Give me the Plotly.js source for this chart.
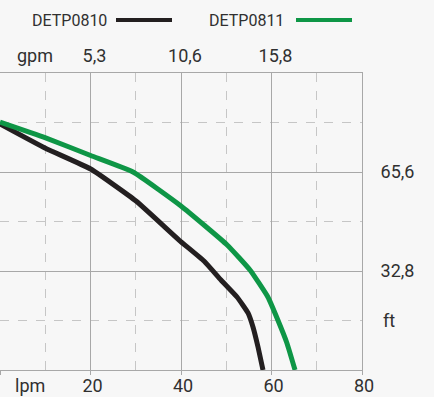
<!DOCTYPE html>
<html>
<head>
<meta charset="utf-8">
<script src="https://cdn.plot.ly/plotly-3.0.1.min.js"></script>
<style>html,body{margin:0;padding:0;background:#f7f7f7;}#chart{width:434px;height:397px;}</style>
</head>
<body>
<div id="chart"></div>
<script>
// Series names
const seriesNames = ["DETP0810", "DETP0811"];
// Flow in lpm, head in metres (axis labelled in ft: 10 m = 32,8 ft)
const flowDETP0810 = [0, 9.94, 20.04, 30.06, 39.56, 45.08, 48.84, 52.38, 54.81, 55.91, 57.02, 58.12];
const headDETP0810 = [24.85, 22.42, 20.3, 17.07, 13.13, 11.01, 9.09, 7.37, 5.76, 4.34, 2.32, 0];
const flowDETP0811 = [0, 9.94, 20.04, 29.4, 40, 50.2, 55.25, 59.2, 61.4, 63.4, 65.2];
const headDETP0811 = [25.05, 23.48, 21.67, 20.0, 16.57, 12.63, 10.1, 7.37, 5.05, 2.73, 0];
// Tick labels
const lpmTickVals = [0, 20, 40, 60, 80];
const lpmTickText = ["", "20", "40", "60", "80"];
const gpmTickVals = [20, 40, 60];
const gpmTickText = ["5,3", "10,6", "15,8"];
const ftTickVals = [10, 20];
const ftTickText = ["32,8", "65,6"];
const unitLabels = {x: "lpm", x2: "gpm", y: "ft"};
const colors = ["#231f20", "#0e9646"];

const FONT = "Roboto, 'Open Sans', sans-serif";
const TXT = "#303030";
const GRID = "#a8a8a8";
const GRID_MINOR = "#c6c6c6";

const traces = [
  {x: flowDETP0810, y: headDETP0810, name: seriesNames[0], mode: "lines",
   line: {color: colors[0], width: 5, shape: "spline", smoothing: 0.4}, hoverinfo: "skip"},
  {x: flowDETP0811, y: headDETP0811, name: seriesNames[1], mode: "lines",
   line: {color: colors[1], width: 5, shape: "spline", smoothing: 0.4}, hoverinfo: "skip"},
  {x: [], y: [], xaxis: "x2", yaxis: "y", showlegend: false, hoverinfo: "skip"}
];

// paper coords: plot spans 362 px wide, 297 px tall
const W = 362, H = 297;
const px = v => v / W;
const py = v => 1 + (73 - v) / H;

const layout = {
  width: 434, height: 397,
  margin: {l: 0, r: 72, t: 73, b: 27, pad: 0},
  paper_bgcolor: "#f7f7f7", plot_bgcolor: "#f7f7f7",
  showlegend: false,
  font: {family: FONT, size: 18, color: TXT},
  xaxis: {
    range: [0, 80], tickmode: "array", tickvals: lpmTickVals, ticktext: lpmTickText,
    showgrid: true, gridcolor: GRID, gridwidth: 1, zeroline: false,
    showline: true, linecolor: GRID, linewidth: 1, mirror: true,
    ticks: "outside", ticklen: 4, tickcolor: GRID, ticklabelshift: 2, ticklabelstandoff: -5,
    tickfont: {family: FONT, size: 18, color: TXT},
    minor: {tickmode: "linear", tick0: 0, dtick: 10, showgrid: true, gridcolor: GRID_MINOR, griddash: "dash", gridwidth: 1, ticks: ""},
    fixedrange: true
  },
  xaxis2: {
    overlaying: "x", side: "top", range: [0, 80], tickmode: "array",
    tickvals: gpmTickVals, ticktext: gpmTickText, showgrid: false, zeroline: false,
    showline: false, ticks: "", ticklabelshift: 4, ticklabelstandoff: 6,
    tickfont: {family: FONT, size: 18, color: TXT}, fixedrange: true
  },
  yaxis: {
    range: [0, 30], side: "right", tickmode: "array", tickvals: ftTickVals, ticktext: ftTickText,
    showgrid: true, gridcolor: GRID, gridwidth: 1, zeroline: false,
    showline: true, linecolor: GRID, linewidth: 1, mirror: true, ticks: "",
    ticklabelstandoff: 14,
    tickfont: {family: FONT, size: 18, color: TXT},
    minor: {tickmode: "linear", tick0: 0, dtick: 5, showgrid: true, gridcolor: GRID_MINOR, griddash: "dash", gridwidth: 1, ticks: ""},
    fixedrange: true
  },
  annotations: [
    {text: unitLabels.x, xref: "paper", yref: "paper", x: px(30), y: -15 / H, xanchor: "center", yanchor: "middle", showarrow: false, font: {family: FONT, size: 18, color: TXT}},
    {text: unitLabels.x2, xref: "paper", yref: "paper", x: px(35), y: py(56), xanchor: "center", yanchor: "middle", showarrow: false, font: {family: FONT, size: 18, color: TXT}},
    {text: unitLabels.y, xref: "paper", yref: "y", x: px(381), y: 5, xanchor: "left", yanchor: "middle", showarrow: false, font: {family: FONT, size: 18, color: TXT}},
    {text: seriesNames[0], xref: "paper", yref: "paper", x: px(109), y: py(20), xanchor: "right", yanchor: "middle", showarrow: false, font: {family: FONT, size: 16, color: TXT}},
    {text: seriesNames[1], xref: "paper", yref: "paper", x: px(286), y: py(20), xanchor: "right", yanchor: "middle", showarrow: false, font: {family: FONT, size: 16, color: TXT}}
  ],
  shapes: [
    {type: "line", xref: "paper", yref: "paper", x0: px(116), x1: px(172), y0: py(20), y1: py(20), line: {color: colors[0], width: 4}},
    {type: "line", xref: "paper", yref: "paper", x0: px(296), x1: px(352), y0: py(20), y1: py(20), line: {color: colors[1], width: 4}}
  ]
};

Plotly.newPlot("chart", traces, layout, {displayModeBar: false, staticPlot: true});
</script>
</body>
</html>
